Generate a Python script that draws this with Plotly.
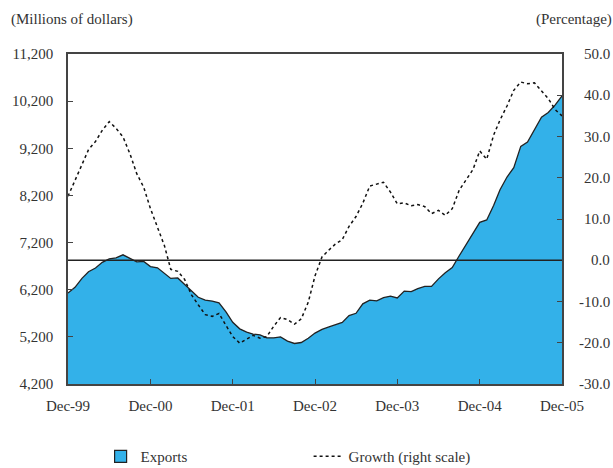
import pandas as pd
import plotly.graph_objects as go

# ---- data (monthly, Dec-1999 .. Dec-2005) ----
months = pd.date_range("1999-12-01", periods=73, freq="MS")

exports = [
    6130, 6250, 6440, 6580, 6660, 6780, 6855, 6875, 6940, 6860, 6790, 6800,
    6690, 6665, 6540, 6440, 6450, 6310, 6160, 6040, 5980, 5960, 5920, 5730,
    5510, 5370, 5300, 5260, 5240, 5180, 5180, 5200, 5110, 5060, 5080, 5170,
    5280, 5360, 5410, 5460, 5505, 5650, 5700, 5900, 5980, 5965, 6030, 6065,
    6025, 6170, 6160, 6225, 6270, 6270, 6430, 6560, 6670, 6920, 7150, 7380,
    7630, 7680, 7990, 8320, 8590, 8790, 9240, 9330, 9600, 9860, 9960, 10120,
    10310,
]

growth = [
    15.5, 19.3, 23.5, 26.8, 28.8, 31.5, 33.6, 32.0, 29.9, 25.8, 21.0, 17.7,
    12.5, 7.9, 3.5, -2.2, -2.7, -4.6, -8.4, -10.8, -13.2, -13.6, -12.9, -15.8,
    -18.5, -20.1, -19.1, -18.2, -18.9, -18.5, -16.0, -13.9, -14.4, -15.5, -14.2, -10.2,
    -3.8, 0.8, 2.5, 3.9, 5.0, 8.2, 10.6, 13.8, 18.0, 18.4, 18.9, 16.5,
    13.7, 13.9, 13.2, 13.5, 13.0, 11.3, 12.1, 10.9, 12.5, 17.0, 19.5, 22.0,
    26.5, 24.5, 30.4, 34.0, 37.4, 41.2, 43.2, 42.8, 43.0, 41.2, 39.2, 36.5,
    35.0,
]

x_tick_dates = pd.to_datetime(["1999-12-01", "2000-12-01", "2001-12-01", "2002-12-01",
                               "2003-12-01", "2004-12-01", "2005-12-01"])
x_tick_labels = ["Dec-99", "Dec-00", "Dec-01", "Dec-02", "Dec-03", "Dec-04", "Dec-05"]

left_ticks = [4200, 5200, 6200, 7200, 8200, 9200, 10200, 11200]
left_labels = ["4,200", "5,200", "6,200", "7,200", "8,200", "9,200", "10,200", "11,200"]

right_ticks = [-30, -20, -10, 0, 10, 20, 30, 40, 50]
right_labels = ["-30.0", "-20.0", "-10.0", "0.0", "10.0", "20.0", "30.0", "40.0", "50.0"]

BLUE = "#33B1E9"
TXT = "#333333"
AX = "#444444"
FONT = "Liberation Serif, Times New Roman, serif"

fig = go.Figure()

fig.add_trace(go.Scatter(
    x=months, y=exports, mode="lines", fill="tozeroy",
    fillcolor=BLUE, line=dict(color="#222222", width=1.3),
    showlegend=False, name="Exports", hoverinfo="skip",
))

# legend proxy for the filled area (square swatch)
fig.add_trace(go.Bar(
    x=[months[0]], y=[None], name="Exports",
    marker=dict(color=BLUE, line=dict(color="#222222", width=1.2)),
    showlegend=True,
))

fig.add_trace(go.Scatter(
    x=months, y=growth, mode="lines", yaxis="y2",
    line=dict(color="#111111", width=1.5, dash="3px,3px"),
    name="Growth (right scale)",
))

fig.add_shape(type="line", xref="paper", x0=0, x1=1, yref="y2", y0=0, y1=0,
              line=dict(color="#222222", width=1.3), layer="above")

# right-axis tick labels are right-aligned at the page edge
right_label_annotations = [
    dict(text=lab, xref="paper", yref="y2", x=1.101, y=val,
         xanchor="right", yanchor="middle", showarrow=False,
         font=dict(family=FONT, size=15, color=TXT))
    for val, lab in zip(right_ticks, right_labels)
]

fig.update_layout(
    width=613, height=468,
    margin=dict(l=68, r=51, t=54, b=84, autoexpand=False),
    paper_bgcolor="white", plot_bgcolor="white",
    font=dict(family=FONT, size=15, color=TXT),
    showlegend=True,
    legend=dict(
        orientation="h", x=0.066, xanchor="left", y=-0.22, yanchor="middle",
        font=dict(family=FONT, size=15, color=TXT),
        entrywidth=163, entrywidthmode="pixels",
        bgcolor="rgba(0,0,0,0)",
    ),
    xaxis=dict(
        range=[months[0], months[-1]], automargin=False,
        tickmode="array", tickvals=x_tick_dates, ticktext=x_tick_labels,
        ticks="inside", ticklen=5, tickcolor=AX, tickwidth=1.3,
        showline=True, linecolor=AX, linewidth=1.5, mirror=True,
        showgrid=False, zeroline=False, ticklabelstandoff=7,
    ),
    yaxis=dict(
        range=[4200, 11200], automargin=False,
        tickmode="array", tickvals=left_ticks, ticktext=left_labels,
        ticks="inside", ticklen=5, tickcolor=AX, tickwidth=1.3,
        showline=True, linecolor=AX, linewidth=1.5,
        showgrid=False, zeroline=False, ticklabelstandoff=10,
    ),
    yaxis2=dict(
        range=[-30, 50], overlaying="y", side="right", automargin=False,
        tickmode="array", tickvals=right_ticks, ticktext=right_labels,
        ticks="inside", ticklen=5, tickcolor=AX, tickwidth=1.3,
        showline=True, linecolor=AX, linewidth=1.5,
        showgrid=False, zeroline=False, showticklabels=False,
    ),
    annotations=[
        dict(text="(Millions of dollars)", xref="paper", yref="paper",
             x=-0.119, y=1.105, xanchor="left", yanchor="middle", showarrow=False,
             font=dict(family=FONT, size=15, color=TXT)),
        dict(text="(Percentage)", xref="paper", yref="paper",
             x=0.943, y=1.105, xanchor="left", yanchor="middle", showarrow=False,
             font=dict(family=FONT, size=15, color=TXT)),
    ] + right_label_annotations,
)

fig.write_html(
    "out.html",
    config={"displayModeBar": False},
    post_script="document.body.style.margin='0';document.body.style.overflow='hidden';",
)
